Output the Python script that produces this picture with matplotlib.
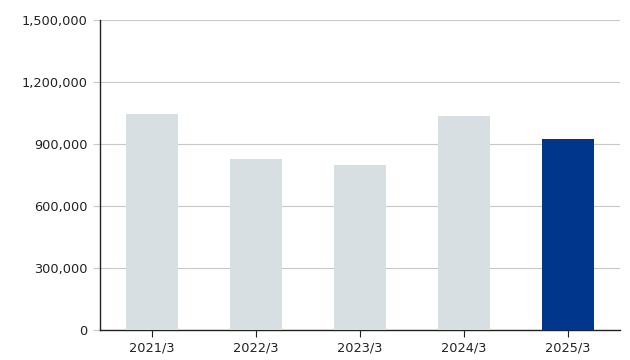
import matplotlib
matplotlib.use("Agg")
import matplotlib.pyplot as plt
from matplotlib.ticker import FuncFormatter

categories = ["2021/3", "2022/3", "2023/3", "2024/3", "2025/3"]
values = [1047000, 827000, 798000, 1035000, 922000]
yticks = [0, 300000, 600000, 900000, 1200000, 1500000]

colors = ["#d8dfe2"] * 4 + ["#00378c"]

fig = plt.figure(figsize=(6.3, 3.6), dpi=100)
ax = fig.add_axes([100/630, 30/360, 520/630, 310/360])
x = range(len(categories))
ax.bar(x, values, width=0.5, color=colors, zorder=3)
ax.set_xlim(-0.5, len(categories) - 0.5)
ax.set_ylim(0, 1500000)
ax.set_yticks(yticks)
ax.yaxis.set_major_formatter(FuncFormatter(lambda v, p: f"{int(v):,}"))
ax.set_xticks(list(x))
ax.set_xticklabels(categories)
ax.grid(axis="y", color="#c8c8c8", linewidth=0.8, zorder=0)
for s in ["top", "right"]:
    ax.spines[s].set_visible(False)
ax.spines["left"].set_color("#222222")
ax.spines["bottom"].set_color("#222222")
ax.spines["left"].set_linewidth(1)
ax.spines["bottom"].set_linewidth(1)
ax.tick_params(axis="y", length=5, color="#c8c8c8", labelsize=9.3, labelcolor="#222222", pad=4)
ax.tick_params(axis="x", length=5, color="#222222", labelsize=9.3, labelcolor="#222222", pad=3)
fig.savefig("out.png", dpi=100)
